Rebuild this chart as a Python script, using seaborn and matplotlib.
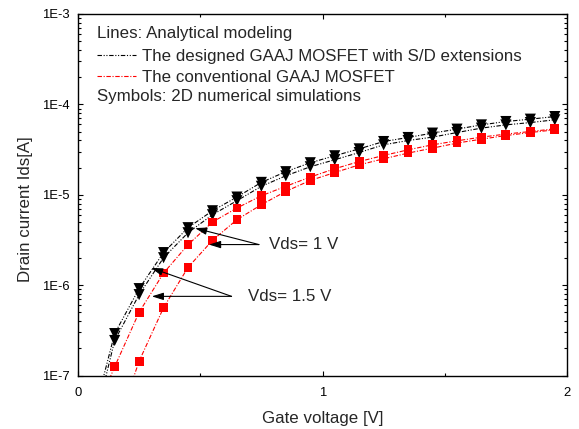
import numpy as np
import pandas as pd
import matplotlib
matplotlib.use("Agg")
import matplotlib.pyplot as plt
import seaborn as sns
from matplotlib.lines import Line2D
from matplotlib.ticker import LogLocator, FuncFormatter, NullFormatter

# ---------------- data ----------------
vg_sim = [0.15, 0.25, 0.35, 0.45, 0.55, 0.65, 0.75, 0.85, 0.95, 1.05,
          1.15, 1.25, 1.35, 1.45, 1.55, 1.65, 1.75, 1.85, 1.95]

# 2D numerical simulations (symbols)
ids_sd_vds15 = [2.91e-7, 9.15e-7, 2.29e-6, 4.32e-6, 6.65e-6, 9.43e-6, 1.37e-5, 1.80e-5, 2.26e-5, 2.70e-5,
                3.22e-5, 3.88e-5, 4.30e-5, 4.81e-5, 5.32e-5, 5.93e-5, 6.46e-5, 6.86e-5, 7.33e-5]
ids_sd_vds1 = [2.44e-7, 7.85e-7, 2.01e-6, 3.80e-6, 6.01e-6, 8.59e-6, 1.24e-5, 1.62e-5, 2.04e-5, 2.44e-5,
               2.93e-5, 3.57e-5, 3.98e-5, 4.34e-5, 4.88e-5, 5.46e-5, 5.93e-5, 6.29e-5, 6.75e-5]
ids_conv_vds15 = [1.25e-7, 5.01e-7, 1.36e-6, 2.80e-6, 4.99e-6, 7.13e-6, 9.75e-6, 1.24e-5, 1.57e-5, 1.94e-5,
                  2.33e-5, 2.72e-5, 3.14e-5, 3.57e-5, 3.95e-5, 4.34e-5, 4.69e-5, 5.01e-5, 5.36e-5]
vg_sim_conv_vds1 = vg_sim[1:]
ids_conv_vds1 = [1.44e-7, 5.64e-7, 1.57e-6, 3.13e-6, 5.30e-6, 7.76e-6, 1.09e-5, 1.44e-5, 1.76e-5,
                 2.14e-5, 2.50e-5, 2.89e-5, 3.28e-5, 3.73e-5, 4.12e-5, 4.52e-5, 4.88e-5, 5.23e-5]

# Analytical modeling (lines)
vg_model_sd = [0.10] + vg_sim
ids_model_sd_vds15 = [8.7e-8] + ids_sd_vds15
ids_model_sd_vds1 = [6.8e-8] + ids_sd_vds1
vg_model_conv15 = [0.10] + vg_sim
ids_model_conv_vds15 = [6.0e-8] + ids_conv_vds15
vg_model_conv1 = [0.20] + vg_sim_conv_vds1
ids_model_conv_vds1 = [5.8e-8] + ids_conv_vds1

x_ticks = [0, 1, 2]
x_minor = [0.5, 1.5]
y_ticks = [1e-7, 1e-6, 1e-5, 1e-4, 1e-3]

legend_labels = ["The designed GAAJ MOSFET with S/D extensions", "The conventional GAAJ MOSFET"]
header_lines = "Lines: Analytical modeling"
header_symbols = "Symbols: 2D numerical simulations"

# annotations: (text, text position, arrow start, arrow tips)
ann_vds1 = ("Vds= 1 V", (0.781, 2.81e-6), (0.740, 2.81e-6), [(0.479, 4.27e-6), (0.536, 2.81e-6)])
ann_vds15 = ("Vds= 1.5 V", (0.695, 7.51e-7), (0.628, 7.51e-7), [(0.299, 1.55e-6), (0.302, 7.51e-7)])

# ---------------- style ----------------
sns.set_style("ticks")
plt.rcParams["font.family"] = ["Liberation Sans", "DejaVu Sans"]

FS_BIG = 12.2
FS_TICK = 9.4
BLACK_LS = (0, (4, 1.5, 1, 1.5, 1, 1.5))
RED_LS = (0, (4, 1.5, 1, 1.5))
RED = "#ff0000"

fig = plt.figure(figsize=(5.79, 4.29), dpi=100)
ax = fig.add_axes([0.1347, 0.1247, 0.8446, 0.8427])
ax.set_yscale("log")

# model lines
for xs, ys, col, ls in [
    (vg_model_sd, ids_model_sd_vds15, "black", BLACK_LS),
    (vg_model_sd, ids_model_sd_vds1, "black", BLACK_LS),
    (vg_model_conv15, ids_model_conv_vds15, RED, RED_LS),
    (vg_model_conv1, ids_model_conv_vds1, RED, RED_LS),
]:
    df = pd.DataFrame({"vg": xs, "ids": ys})
    sns.lineplot(data=df, x="vg", y="ids", ax=ax, color=col, lw=0.8,
                 linestyle=ls, errorbar=None, sort=False, zorder=2)

# simulation symbols
for xs, ys, col, mk, s in [
    (vg_sim, ids_sd_vds15, "black", "v", 64),
    (vg_sim, ids_sd_vds1, "black", "v", 64),
    (vg_sim, ids_conv_vds15, RED, "s", 40),
    (vg_sim_conv_vds1, ids_conv_vds1, RED, "s", 40),
]:
    df = pd.DataFrame({"vg": xs, "ids": ys})
    sns.scatterplot(data=df, x="vg", y="ids", ax=ax, color=col, marker=mk, s=s,
                    edgecolor="none", linewidth=0, zorder=3)

# axes
ax.set_xlim(0, 2)
ax.set_ylim(1e-7, 1e-3)
ax.set_xticks(x_ticks)
ax.set_xticklabels([str(t) for t in x_ticks])
ax.set_xticks(x_minor, minor=True)
ax.set_yticks(y_ticks)
ax.yaxis.set_major_formatter(FuncFormatter(lambda v, p: f"1E{int(round(np.log10(v)))}"))
ax.yaxis.set_minor_locator(LogLocator(base=10, subs=np.arange(2, 10), numticks=20))
ax.yaxis.set_minor_formatter(NullFormatter())

ax.tick_params(which="both", direction="in", top=True, right=True, width=0.8,
               colors="black", labelsize=FS_TICK)
ax.tick_params(which="major", length=3.8)
ax.tick_params(which="minor", length=2.2)
ax.tick_params(axis="y", pad=6)
ax.tick_params(axis="x", pad=8)
for sp in ax.spines.values():
    sp.set_visible(True)
    sp.set_linewidth(1.0)
    sp.set_color("black")

ax.set_xlabel("Gate voltage [V]", fontsize=FS_BIG, va="center")
ax.xaxis.set_label_coords(0.5, -0.12)
ax.set_ylabel("Drain current Ids[A]", fontsize=FS_BIG, va="center")
ax.yaxis.set_label_coords(-0.108, 0.46)

# legend block
handles = [Line2D([], [], color="black", lw=0.8, linestyle=BLACK_LS),
           Line2D([], [], color=RED, lw=0.8, linestyle=RED_LS)]
ax.legend(handles, legend_labels, loc="center left", bbox_to_anchor=(0.0395, 0.8535),
          frameon=False, borderpad=0, borderaxespad=0, handlelength=2.3,
          handletextpad=0.33, labelspacing=0.38, fontsize=FS_BIG)
ax.text(0.0395, 0.9455, header_lines, transform=ax.transAxes, va="center", ha="left", fontsize=FS_BIG)
ax.text(0.0395, 0.7712, header_symbols, transform=ax.transAxes, va="center", ha="left", fontsize=FS_BIG)

# annotations
for text, tpos, start, tips in [ann_vds1, ann_vds15]:
    ax.text(tpos[0], tpos[1], text, ha="left", va="center", fontsize=FS_BIG)
    for tip in tips:
        ax.annotate("", xy=tip, xytext=start,
                    arrowprops=dict(arrowstyle="-|>,head_length=0.7,head_width=0.22",
                                    color="black", lw=0.8, shrinkA=0, shrinkB=0))

fig.savefig("out.png", dpi=100)
